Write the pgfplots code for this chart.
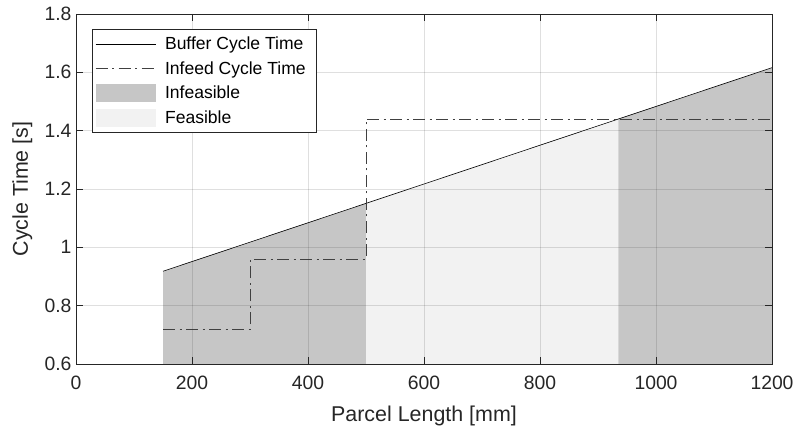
\documentclass[border=0pt]{standalone}
\usepackage{pgfplots}
\pgfplotsset{compat=1.18}
\usepackage{fontspec}
\setmainfont{Liberation Sans}
\definecolor{axgray}{RGB}{38,38,38}
\definecolor{infeas}{RGB}{198,198,198}
\definecolor{feas}{RGB}{242,242,242}
\pgfplotsset{
  longline/.style={legend image code/.code={\draw[##1] (0bp,0bp) -- (60bp,0bp);}},
  longbox/.style={legend image code/.code={\fill[##1] (0bp,-9bp) rectangle (60bp,9bp);}},
}
\begin{document}
\begin{tikzpicture}
\useasboundingbox (-76bp,-66bp) rectangle (719bp,364bp);
\begin{axis}[at={(0,0)},anchor=south west,
  scale only axis, width=696bp, height=350bp,
  xmin=0,xmax=1200,ymin=0.6,ymax=1.8,
  xtick={0,200,400,600,800,1000,1200},
  ytick={0.6,0.8,1,1.2,1.4,1.6,1.8},
  yticklabels={0.6,0.8,1,1.2,1.4,1.6,1.8},
  scaled x ticks=false,
  /pgf/number format/1000 sep={},
  grid=major,
  major grid style={draw=axgray, opacity=0.15, line width=0.5bp},
  tick align=inside, tick pos=both, major tick length=7bp,
  tick style={draw=axgray, line width=0.5bp},
  axis line style={draw=axgray, line width=0.5bp},
  ticklabel style={font=\fontsize{19.4}{22}\selectfont, text=axgray},
  xticklabel style={yshift=-8bp},
  yticklabel style={xshift=-1bp},
  /pgf/number format/assume math mode=true,
  xlabel={Parcel Length [mm]}, ylabel={Cycle Time [s]},
  label style={font=\fontsize{21.5}{24}\selectfont, text=axgray},
  xlabel style={at={(axis description cs:0.5,-0.1649)}, anchor=base},
  ylabel style={at={(axis description cs:-0.069,0.5)}, anchor=base, rotate=0},
  axis on top,
  legend cell align=left,
  legend style={at={(axis description cs:0.023,0.957)}, anchor=north west,
    draw=axgray, line width=0.5bp, font=\fontsize{17.6}{20}\selectfont,
    inner xsep=3bp, inner ysep=5.5bp, row sep=6.5bp,
    nodes={inner xsep=3bp, inner ysep=2bp},
    /tikz/every odd column/.append style={column sep=6bp}},
]
\addplot[fill=infeas, draw=none, forget plot] coordinates {(150,0.6) (150,0.918) (500,1.1507) (500,0.6)} -- cycle;
\addplot[fill=feas, draw=none, forget plot] coordinates {(500,0.6) (500,1.1507) (935,1.44) (935,0.6)} -- cycle;
\addplot[fill=infeas, draw=none, forget plot] coordinates {(935,0.6) (935,1.44) (1200,1.616) (1200,0.6)} -- cycle;
\addplot[black, line width=0.6bp, longline] coordinates {(150,0.918) (1200,1.616)};
\addlegendentry{Buffer Cycle Time}
\addplot[black!75, line width=0.8bp, dash pattern=on 12bp off 4.5bp on 2bp off 4.5bp, longline] coordinates {(150,0.72) (300,0.72) (300,0.96) (500,0.96) (500,1.44) (1200,1.44)};
\addlegendentry{Infeed Cycle Time\hspace*{5bp}}
\addlegendimage{area legend, fill=infeas, draw=none, longbox}
\addlegendentry{Infeasible}
\addlegendimage{area legend, fill=feas, draw=none, longbox}
\addlegendentry{Feasible}
\end{axis}
\end{tikzpicture}
\end{document}
